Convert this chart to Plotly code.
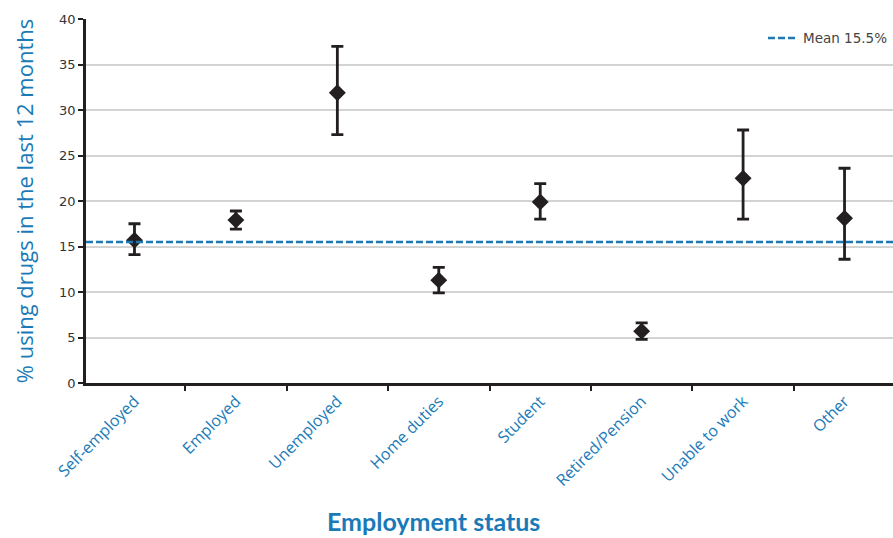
import plotly.graph_objects as go

# Employment status categories and estimates (% using drugs in last 12 months)
categories = ["Self-employed", "Employed", "Unemployed", "Home duties",
              "Student", "Retired/Pension", "Unable to work", "Other"]
estimate = [15.7, 17.9, 31.9, 11.3, 19.9, 5.7, 22.5, 18.1]
upper_ci = [17.5, 18.9, 37.0, 12.7, 21.9, 6.6, 27.8, 23.6]
lower_ci = [14.1, 16.9, 27.3, 9.9, 18.0, 4.8, 18.0, 13.6]
mean_value = 15.5

err_plus = [u - e for u, e in zip(upper_ci, estimate)]
err_minus = [e - l for e, l in zip(estimate, lower_ci)]

BLUE = "#1a7ab8"
DARK = "#231f20"

fig = go.Figure()

fig.add_trace(go.Scatter(
    x=categories, y=estimate, mode="markers",
    marker=dict(symbol="diamond", size=13, color=DARK),
    error_y=dict(type="data", symmetric=False, array=err_plus,
                 arrayminus=err_minus, color=DARK, thickness=2.8, width=6),
    showlegend=False,
))

fig.add_shape(
    type="line", xref="paper", yref="y", x0=0, x1=1, y0=mean_value, y1=mean_value,
    line=dict(color="#1f78b4", width=2.5, dash="7px,3px"),
    name=f"Mean {mean_value}%", showlegend=True,
)

# x-axis title centred on the page
fig.add_annotation(
    text="<b>Employment status</b>", xref="paper", yref="paper",
    x=0.43, y=0, yshift=-155, xanchor="center", yanchor="bottom",
    showarrow=False, font=dict(family="Lato", size=25, color=BLUE),
)

fig.update_layout(
    width=893, height=538,
    margin=dict(l=86, r=0, t=19, b=155),
    paper_bgcolor="white", plot_bgcolor="white",
    font=dict(family="Open Sans, sans-serif"),
    legend=dict(x=1, y=0.99, xanchor="right", yanchor="top",
                bgcolor="rgba(0,0,0,0)",
                font=dict(family="DejaVu Sans", size=13.5, color="#444444")),
    xaxis=dict(
        type="category", tickson="boundaries", ticks="outside", ticklen=5,
        tickwidth=2, tickcolor=DARK, showline=True, linecolor=DARK, linewidth=2.5,
        showgrid=False, tickangle=-45,
        tickfont=dict(family="Open Sans", size=16, color=BLUE),
    ),
    yaxis=dict(
        range=[0, 40], dtick=5, ticks="outside", ticklen=5, tickwidth=2,
        tickcolor=DARK, showline=True, linecolor=DARK, linewidth=2.5,
        showgrid=True, gridcolor="#d3d3d3", gridwidth=2, zeroline=False,
        tickfont=dict(family="DejaVu Sans", size=13, color="#333333"),
        title=dict(text="% using drugs in the last 12 months", standoff=20,
                   font=dict(family="Open Sans", size=22, color=BLUE)),
    ),
)

fig.write_html("out.html")
